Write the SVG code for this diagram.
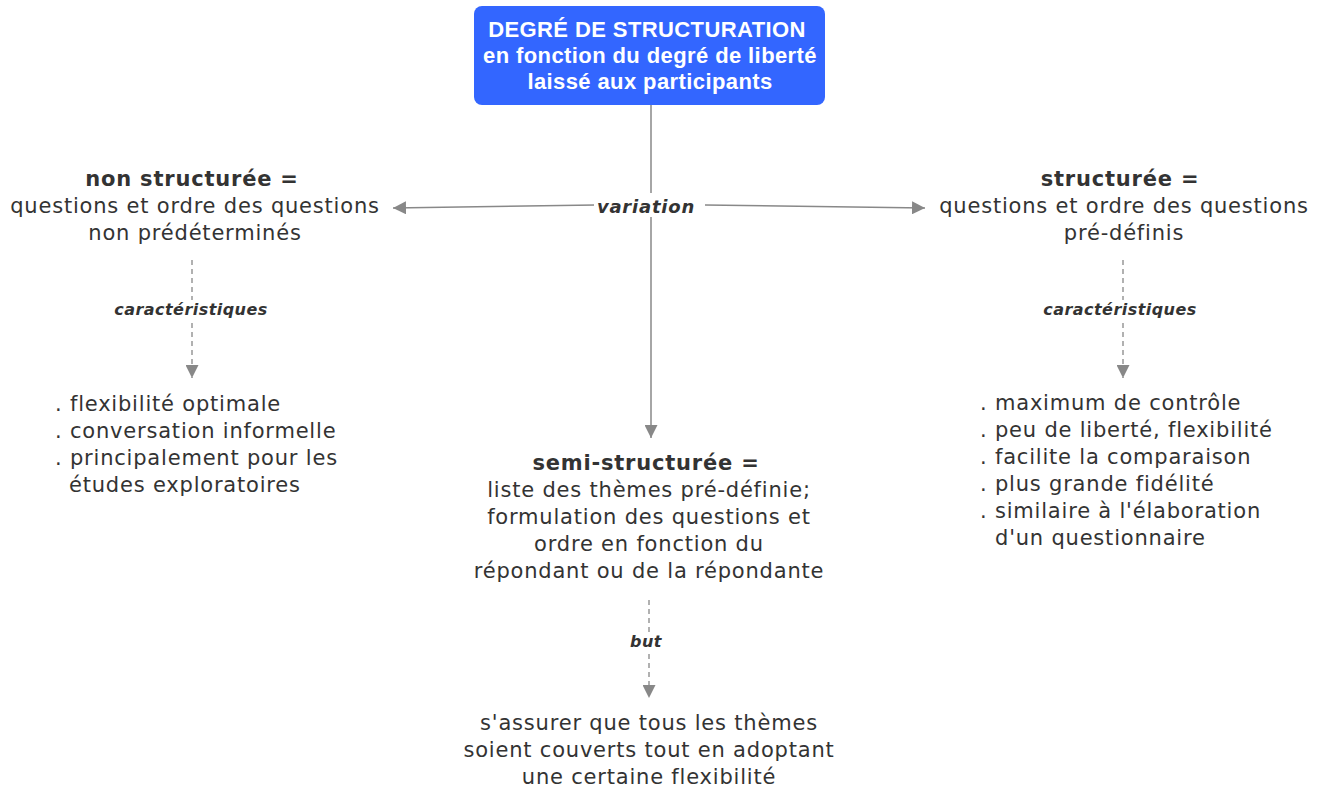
<svg xmlns="http://www.w3.org/2000/svg" width="1323" height="792" viewBox="0 0 1323 792">
<style>
.t{font-family:"DejaVu Sans",Verdana,sans-serif;font-size:21px;letter-spacing:0.8px;fill:#333;}
.b{font-weight:bold;}
.lbl{font-family:"DejaVu Sans",Verdana,sans-serif;font-size:16px;letter-spacing:0.45px;font-weight:bold;font-style:italic;fill:#333;}
.lblv{font-family:"DejaVu Sans",Verdana,sans-serif;font-size:18px;letter-spacing:0.8px;font-weight:bold;font-style:italic;fill:#333;}
.c{stroke:#888;stroke-width:1.5;fill:none;}
.d{stroke:#888;stroke-width:1.3;fill:none;stroke-dasharray:5,4;}
.top{font-family:"Liberation Sans",Arial,sans-serif;font-size:22px;letter-spacing:0.4px;font-weight:bold;fill:#fff;}
</style>
<defs>
<marker id="ah2" viewBox="0 0 10 10" refX="10" refY="5" markerWidth="13" markerHeight="13" markerUnits="userSpaceOnUse" orient="auto">
<path d="M0,0 L10,5 L0,10 z" fill="#888"/>
</marker>
</defs>
<rect width="1323" height="792" fill="#fff"/>
<g id="connectors">
<line class="c" x1="651" y1="105" x2="651" y2="438" marker-end="url(#ah2)"/>
<line class="c" x1="595" y1="205" x2="393" y2="208" marker-end="url(#ah2)"/>
<line class="c" x1="705" y1="205" x2="925" y2="208" marker-end="url(#ah2)"/>
<rect x="594" y="193" width="106" height="24" fill="#fff"/>
<text class="lblv" x="646" y="213" text-anchor="middle">variation</text>
<line class="d" x1="192" y1="260" x2="192" y2="378" marker-end="url(#ah2)"/>
<rect x="110" y="300" width="162" height="20" fill="#fff"/>
<text class="lbl" x="191" y="315" text-anchor="middle">caractéristiques</text>
<line class="d" x1="1123" y1="260" x2="1123" y2="378" marker-end="url(#ah2)"/>
<rect x="1040" y="300" width="162" height="20" fill="#fff"/>
<text class="lbl" x="1120" y="315" text-anchor="middle">caractéristiques</text>
<line class="d" x1="649" y1="600" x2="649" y2="698" marker-end="url(#ah2)"/>
<rect x="630" y="632" width="34" height="20" fill="#fff"/>
<text class="lbl" x="646" y="647" text-anchor="middle">but</text>
</g>
<g id="n-top">
<rect x="474" y="6" width="351" height="99" rx="8" fill="#3366ff"/>
<text class="top" x="647" y="37" text-anchor="middle">DEGRÉ DE STRUCTURATION</text>
<text class="top" x="650" y="63" text-anchor="middle">en fonction du degré de liberté</text>
<text class="top" x="650" y="89" text-anchor="middle">laissé aux participants</text>
</g>
<g id="n-non">
<text class="t" text-anchor="middle"><tspan class="b" x="192" y="186">non structurée =</tspan><tspan x="195" y="213">questions et ordre des questions</tspan><tspan x="195" y="240">non prédéterminés</tspan></text>
</g>
<g id="n-non-car">
<text class="t"><tspan x="55" y="411">. flexibilité optimale</tspan><tspan x="55" y="438">. conversation informelle</tspan><tspan x="55" y="465">. principalement pour les</tspan><tspan x="69" y="492">études exploratoires</tspan></text>
</g>
<g id="n-struct">
<text class="t" text-anchor="middle"><tspan class="b" x="1120" y="186">structurée =</tspan><tspan x="1124" y="213">questions et ordre des questions</tspan><tspan x="1124" y="240">pré-définis</tspan></text>
</g>
<g id="n-struct-car">
<text class="t"><tspan x="980" y="410">. maximum de contrôle</tspan><tspan x="980" y="437">. peu de liberté, flexibilité</tspan><tspan x="980" y="464">. facilite la comparaison</tspan><tspan x="980" y="491">. plus grande fidélité</tspan><tspan x="980" y="518">. similaire à l'élaboration</tspan><tspan x="995" y="545">d'un questionnaire</tspan></text>
</g>
<g id="n-semi">
<text class="t" text-anchor="middle"><tspan class="b" x="646" y="470">semi-structurée =</tspan><tspan x="649" y="497">liste des thèmes pré-définie;</tspan><tspan x="649" y="524">formulation des questions et</tspan><tspan x="649" y="551">ordre en fonction du</tspan><tspan x="649" y="578">répondant ou de la répondante</tspan></text>
</g>
<g id="n-but">
<text class="t" text-anchor="middle"><tspan x="649" y="730">s'assurer que tous les thèmes</tspan><tspan x="649" y="757">soient couverts tout en adoptant</tspan><tspan x="649" y="784">une certaine flexibilité</tspan></text>
</g>
</svg>
